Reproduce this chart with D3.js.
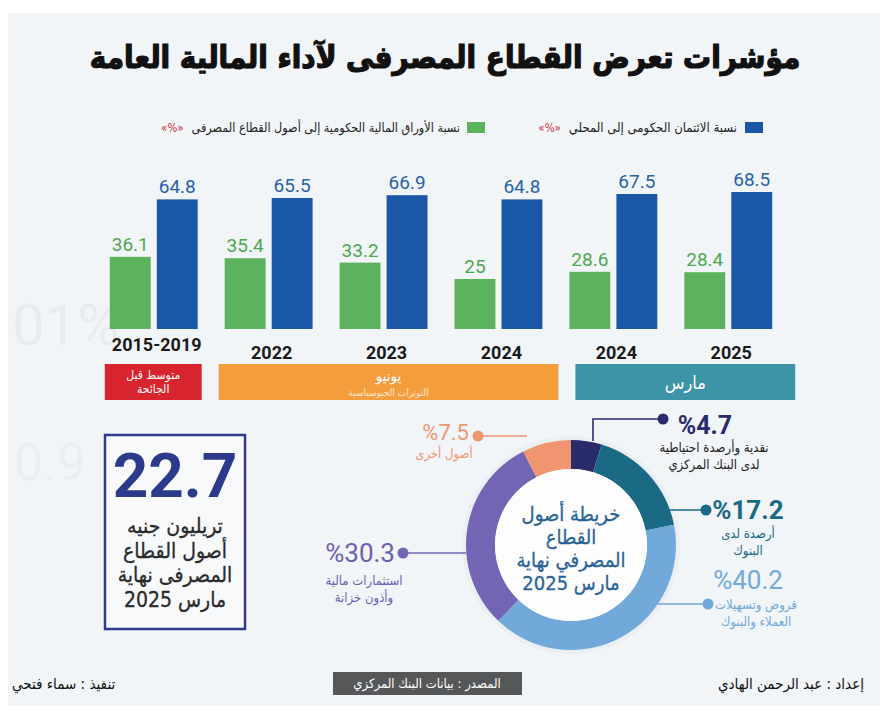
<!DOCTYPE html>
<meta charset="utf-8">
<style>
  body { margin: 0; background: #fff; }
  text { font-family: "DejaVu Sans Condensed", "DejaVu Sans", sans-serif; }
  .num { font-family: "Liberation Sans Narrow", "Roboto", sans-serif; }
</style>
<svg width="888" height="720"></svg>
<script src="https://d3js.org/d3.v7.min.js"></script>
<script>
  // data
  var periods = ["2015-2019", "2022", "2023", "2024", "2024", "2025"];
  var govCredit = [64.8, 65.5, 66.9, 64.8, 67.5, 68.5];      // نسبة الائتمان الحكومى إلى المحلي
  var govSecurities = [36.1, 35.4, 33.2, 25, 28.6, 28.4];   // نسبة الأوراق المالية الحكومية إلى أصول القطاع المصرفى
  var seriesNames = ["نسبة الائتمان الحكومى إلى المحلي", "نسبة الأوراق المالية الحكومية إلى أصول القطاع المصرفى"];
  var bandLabels = [["متوسط قبل", "الجائحة"], ["يونيو", "التوترات الجيوسياسية"], ["مارس"]];
  var bandFrom = [0, 1, 4], bandTo = [0, 3, 5];
  var assetNames = ["نقدية وأرصدة احتياطية|لدى البنك المركزي", "أرصدة لدى|البنوك", "قروض وتسهيلات|العملاء والبنوك", "استثمارات مالية|وأذون خزانة", "أصول أخرى"];
  var assetShares = [4.7, 17.2, 40.2, 30.3, 7.5];
  var totalAssets = 22.7;

  var svg = d3.select("svg");

  // background panel + faint watermark
  svg.append("rect").attr("x", 8).attr("y", 13).attr("width", 872).attr("height", 693).attr("fill", "#f1f5f8");
  svg.append("text").attr("x", 12).attr("y", 345).attr("font-size", 58).attr("fill", "#e8ecf0")
    .attr("class", "num").text("01%");
  svg.append("text").attr("x", 14).attr("y", 480).attr("font-size", 52).attr("fill", "#eaeef2")
    .attr("class", "num").text("0.9");

  function fit(sel, w) {
    var n = sel.node(), fs = +sel.attr("font-size");
    while (n.getComputedTextLength() > w && fs > 6) { fs -= 0.5; sel.attr("font-size", fs); }
    return sel;
  }

  // title
  fit(svg.append("text").attr("x", 445).attr("y", 68).attr("text-anchor", "middle")
    .attr("font-size", 38).attr("font-weight", 700).attr("fill", "#111")
    .attr("stroke", "#111").attr("stroke-width", 1.2)
    .text("مؤشرات تعرض القطاع المصرفى لآداء المالية العامة"), 720);

  // legend
  var colBlue = "#1b57a7", colGreen = "#5db35d";
  var leg = [
    {c: colBlue, sq: 745, tx: 737, w: 180, name: seriesNames[0]},
    {c: colGreen, sq: 467, tx: 460, w: 275, name: seriesNames[1]}
  ];
  leg.forEach(function(d) {
    svg.append("rect").attr("x", d.sq).attr("y", 122).attr("width", 18).attr("height", 11).attr("fill", d.c);
    var t = fit(svg.append("text").attr("x", d.tx).attr("y", 132).attr("text-anchor", "end")
      .attr("font-size", 13).attr("fill", "#222").text(d.name), d.w);
    var tw = t.node().getComputedTextLength();
    svg.append("text").attr("x", d.tx - tw - 8).attr("y", 132).attr("text-anchor", "end")
      .attr("font-size", 11.5).attr("fill", "#c8323a").text("«%»");
  });

  // bar chart
  var x = d3.scaleBand().domain(d3.range(periods.length)).range([96, 786]).paddingInner(0.235).paddingOuter(0.12);
  var x1 = d3.scaleBand().domain(["g", "b"]).range([0, x.bandwidth()]).paddingInner(0.13);
  var y = d3.scaleLinear().domain([0, 70]).range([329, 189]);

  var rows = periods.map(function(p, i) { return {i: i, p: p, g: govSecurities[i], b: govCredit[i]}; });
  var grp = svg.append("g").selectAll("g").data(rows).enter().append("g")
    .attr("transform", function(d) { return "translate(" + x(d.i) + ",0)"; });

  [["g", colGreen, "#4fa84f"], ["b", colBlue, "#2a62a6"]].forEach(function(s) {
    grp.append("rect")
      .attr("x", x1(s[0])).attr("width", x1.bandwidth())
      .attr("y", function(d) { return y(d[s[0]]); })
      .attr("height", function(d) { return y(0) - y(d[s[0]]); })
      .attr("fill", s[1]);
    grp.append("text").attr("class", "num")
      .attr("x", x1(s[0]) + x1.bandwidth() / 2)
      .attr("y", function(d) { return y(d[s[0]]) - 6; })
      .attr("text-anchor", "middle").attr("font-size", 19).attr("fill", s[2])
      .text(function(d) { return d[s[0]]; });
  });

  grp.append("text").attr("class", "num")
    .attr("x", x.bandwidth() / 2 + 3)
    .attr("y", function(d) { return d.i === 0 ? 351 : 359; })
    .attr("text-anchor", "middle").attr("font-size", 18).attr("font-weight", 700).attr("fill", "#1a1a1a")
    .text(function(d) { return d.p; });

  // period bands
  var bandCol = ["#d7242e", "#f49d3d", "#3c94a6"];
  var bandPad = [[-5, 4], [-6, 16], [6, 23]];
  bandLabels.forEach(function(lab, k) {
    var x0 = x(bandFrom[k]) + bandPad[k][0], xEnd = x(bandTo[k]) + x.bandwidth() + bandPad[k][1];
    var cx = (x0 + xEnd) / 2;
    svg.append("rect").attr("x", x0).attr("y", 364).attr("width", xEnd - x0).attr("height", 36).attr("fill", bandCol[k]);
    if (k === 0) {
      lab.forEach(function(t, j) {
        svg.append("text").attr("x", cx).attr("y", 379 + j * 14).attr("text-anchor", "middle")
          .attr("font-size", 12).attr("fill", "#fff").text(t);
      });
    } else if (k === 1) {
      svg.append("text").attr("x", cx).attr("y", 381).attr("text-anchor", "middle")
        .attr("font-size", 15).attr("fill", "#fff").text(lab[0]);
      svg.append("text").attr("x", cx).attr("y", 396).attr("text-anchor", "middle")
        .attr("font-size", 10).attr("fill", "#fbe6cc").text(lab[1]);
    } else {
      svg.append("text").attr("x", cx).attr("y", 389).attr("text-anchor", "middle")
        .attr("font-size", 18).attr("fill", "#fff").text(lab[0]);
    }
  });

  // total box
  svg.append("rect").attr("x", 105).attr("y", 435).attr("width", 140).attr("height", 194)
    .attr("fill", "#f7f9fb").attr("stroke", "#2d3d8c").attr("stroke-width", 2.5);
  svg.append("text").attr("class", "num").attr("x", 175).attr("y", 497).attr("text-anchor", "middle")
    .attr("font-size", 62).attr("font-weight", 700).attr("fill", "#2b3a8a").text(totalAssets);
  ["تريليون جنيه", "أصول القطاع", "المصرفى نهاية", "مارس 2025"].forEach(function(t, j) {
    fit(svg.append("text").attr("x", 175).attr("y", 533 + j * 24.5).attr("text-anchor", "middle")
      .attr("font-size", 21).attr("fill", "#2a2a2a").attr("stroke", "#2a2a2a").attr("stroke-width", 0.3)
      .text(t), 118);
  });

  // donut
  var cx = 571, cy = 545, R = 105, r = 76;
  var sliceCol = ["#2a2b6b", "#1b6a85", "#70a9da", "#7465b4", "#f0956f"];
  var labCol = ["#2a2b6b", "#1b6a85", "#70a9da", "#6e5fb0", "#f0956f"];
  var pie = d3.pie().sort(null).value(function(d) { return d; });
  var arc = d3.arc().innerRadius(r).outerRadius(R);
  var dg = svg.append("g").attr("transform", "translate(" + cx + "," + cy + ")");
  dg.append("circle").attr("r", R + 4).attr("fill", "#e6ebf0").attr("opacity", 0.6);
  dg.selectAll("path").data(pie(assetShares)).enter().append("path")
    .attr("d", arc).attr("fill", function(d, i) { return sliceCol[i]; });
  dg.append("circle").attr("r", r).attr("fill", "#fdfdfe");
  ["خريطة أصول", "القطاع", "المصرفي نهاية", "مارس 2025"].forEach(function(t, j) {
    fit(dg.append("text").attr("x", 0).attr("y", -24 + j * 23).attr("text-anchor", "middle")
      .attr("font-size", 20).attr("fill", "#2a6496").attr("stroke", "#2a6496").attr("stroke-width", 0.3)
      .text(t), 124);
  });

  // leader lines and labels
  var labels = [
    {pts: [[593, 441], [593, 419], [663, 419]], tx: 705, ty: 434, anchor: "middle", fs: 25, sub: [452, 469], sx: 714, subCol: "#222"},
    {pts: [[670, 510], [706, 510]], tx: 748, ty: 519, anchor: "middle", fs: 26, sub: [538, 555], sx: 748},
    {pts: [[658, 604], [708, 604]], tx: 748, ty: 589, anchor: "middle", fs: 26, sub: [609, 626], sx: 756},
    {pts: [[466, 553], [403, 553]], tx: 395, ty: 562, anchor: "end", fs: 26, sub: [585, 602], sx: 364},
    {pts: [[527, 436], [478, 436]], tx: 469, ty: 440, anchor: "end", fs: 22, sub: [458], sx: 444}
  ];
  labels.forEach(function(L, i) {
    svg.append("path").attr("d", d3.line()(L.pts)).attr("fill", "none")
      .attr("stroke", sliceCol[i]).attr("stroke-width", 1.6);
    var end = L.pts[L.pts.length - 1];
    svg.append("circle").attr("cx", end[0]).attr("cy", end[1]).attr("r", 5.5).attr("fill", sliceCol[i]);
    svg.append("text").attr("class", "num").attr("x", L.tx).attr("y", L.ty).attr("text-anchor", L.anchor)
      .attr("font-size", L.fs).attr("font-weight", i < 2 ? 700 : 400).attr("fill", labCol[i])
      .text("%" + assetShares[i]);
    assetNames[i].split("|").forEach(function(t, j) {
      svg.append("text").attr("x", L.sx).attr("y", L.sub[j]).attr("text-anchor", "middle")
        .attr("font-size", 13).attr("fill", L.subCol || labCol[i]).text(t);
    });
  });

  // footer
  svg.append("rect").attr("x", 333).attr("y", 672).attr("width", 189).attr("height", 23).attr("fill", "#555759");
  svg.append("text").attr("x", 427).attr("y", 688).attr("text-anchor", "middle").attr("font-size", 13)
    .attr("fill", "#fff").text("المصدر : بيانات البنك المركزي");
  svg.append("text").attr("x", 864).attr("y", 689).attr("text-anchor", "end").attr("font-size", 15)
    .attr("fill", "#111").text("إعداد : عبد الرحمن الهادي");
  svg.append("text").attr("x", 12).attr("y", 689).attr("text-anchor", "start").attr("font-size", 15)
    .attr("fill", "#111").text("تنفيذ : سماء فتحي");
</script>
